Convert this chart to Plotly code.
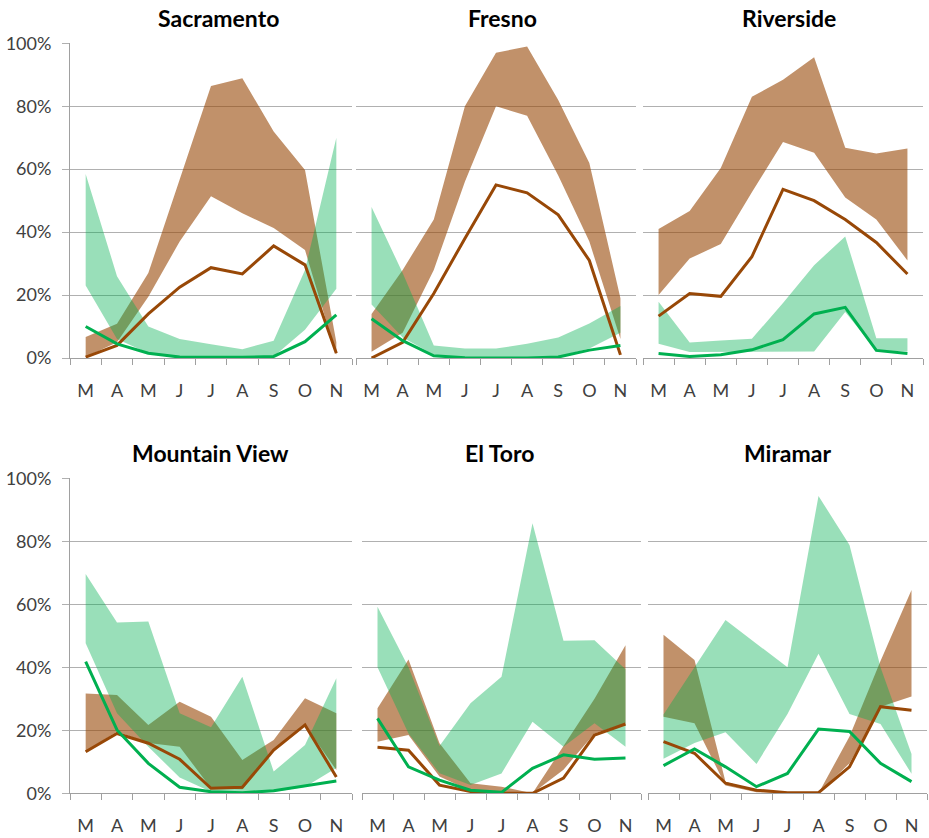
import plotly.graph_objects as go

# ---------------- data ----------------
months = ["M", "A", "M", "J", "J", "A", "S", "O", "N"]
cities = ["Sacramento", "Fresno", "Riverside", "Mountain View", "El Toro", "Miramar"]
y_tick_vals = [0, 20, 40, 60, 80, 100]
y_tick_text = ["0%", "20%", "40%", "60%", "80%", "100%"]

sac_brown_hi = [6.7, 10.9, 27, 57, 86.4, 88.9, 72, 59.7, 5]
sac_brown_lo = [0.3, 5, 19.5, 37, 51.4, 46, 41.3, 34.3, 1]
sac_brown_mid = [0.3, 4, 14, 22.5, 28.7, 26.7, 35.6, 29.6, 1.5]
sac_green_hi = [58.5, 26, 10, 6, 4.4, 2.8, 5.5, 28, 70]
sac_green_lo = [23, 6, 1.5, 0.5, 0.5, 0.5, 0.5, 9, 22]
sac_green_mid = [10, 4.5, 1.5, 0.3, 0.2, 0.2, 0.5, 5.2, 13.7]

fre_brown_hi = [14, 28, 44, 80, 97, 99, 82, 62, 19]
fre_brown_lo = [2, 8, 28, 56, 80, 77, 58, 37, 6]
fre_brown_mid = [0, 5, 20.5, 38, 55, 52.5, 45.5, 31, 1]
fre_green_hi = [48, 27, 4, 3, 3, 4.5, 6.5, 11, 16.5]
fre_green_lo = [17, 6.5, 1, 0.2, 0.2, 0.2, 0.5, 3, 8]
fre_green_mid = [12.5, 5.5, 0.7, 0.1, 0, 0, 0.3, 2.5, 4]

riv_brown_hi = [41, 46.7, 60.4, 83, 88.4, 95.6, 66.8, 65, 66.6]
riv_brown_lo = [20, 31.6, 36.2, 52.7, 68.6, 65.2, 51, 44, 31]
riv_brown_mid = [13.3, 20.5, 19.6, 32.2, 53.6, 50, 44, 36.7, 26.7]
riv_green_hi = [17.9, 4.9, 5.6, 6.1, 17.5, 29.5, 38.6, 6.3, 6.3]
riv_green_lo = [4.5, 1.9, 2.1, 2.1, 2.1, 2.1, 14.6, 2.4, 2.1]
riv_green_mid = [1.4, 0.5, 1, 2.6, 5.8, 14, 16.1, 2.4, 1.4]

mv_brown_hi = [31.7, 31.2, 21.7, 29.1, 24.3, 10.6, 16.9, 30.2, 25.4]
mv_brown_lo = [13.2, 19.6, 16, 14.8, 1.6, 1.3, 14, 21.7, 7.4]
mv_brown_mid = [13.2, 19, 15.9, 10.8, 1.6, 1.9, 13.7, 21.7, 5.2]
mv_green_hi = [69.6, 54.2, 54.5, 25.4, 21, 37, 6.9, 15.3, 36.5]
mv_green_lo = [47.6, 25.4, 14.8, 5, 0.5, 0, 0.5, 2, 8]
mv_green_mid = [41.8, 20.1, 9.5, 1.9, 0.5, 0.2, 0.8, 2.3, 3.9]

elt_brown_hi = [27, 42.5, 15.9, 3.2, 2.1, 0, 15, 30, 47]
elt_brown_lo = [16.4, 18.5, 5.3, 0.8, 0.3, 0, 7.5, 19, 22.2]
elt_brown_mid = [14.6, 13.7, 2.6, 0.6, 0, 0, 4.8, 18.5, 22]
elt_green_hi = [59.2, 40, 15, 28.6, 37, 85.7, 48.4, 48.6, 39.4]
elt_green_lo = [40, 19, 6.4, 2.6, 6.3, 22.7, 14.8, 22.2, 14.8]
elt_green_mid = [23.8, 8.4, 4.2, 1, 0.3, 7.9, 12.2, 10.8, 11.2]

mir_brown_hi = [50.3, 42.3, 3.7, 0.9, 0, 0, 18, 42, 64.5]
mir_brown_lo = [24.3, 22.2, 2.5, 0.3, 0, 0, 9.5, 27.5, 30.7]
mir_brown_mid = [16.4, 12.7, 3.2, 1, 0.2, 0.2, 8.4, 27.5, 26.4]
mir_green_hi = [25, 40, 55, 47.5, 40, 94.4, 78.8, 40, 12.5]
mir_green_lo = [11, 16, 19.4, 9.3, 25.2, 44.3, 25.2, 22, 6.2]
mir_green_mid = [8.8, 14.1, 8.4, 2.1, 6.3, 20.4, 19.6, 9.5, 3.7]

panels = [
    (sac_brown_hi, sac_brown_lo, sac_brown_mid, sac_green_hi, sac_green_lo, sac_green_mid),
    (fre_brown_hi, fre_brown_lo, fre_brown_mid, fre_green_hi, fre_green_lo, fre_green_mid),
    (riv_brown_hi, riv_brown_lo, riv_brown_mid, riv_green_hi, riv_green_lo, riv_green_mid),
    (mv_brown_hi, mv_brown_lo, mv_brown_mid, mv_green_hi, mv_green_lo, mv_green_mid),
    (elt_brown_hi, elt_brown_lo, elt_brown_mid, elt_green_hi, elt_green_lo, elt_green_mid),
    (mir_brown_hi, mir_brown_lo, mir_brown_mid, mir_green_hi, mir_green_lo, mir_green_mid),
]

# ---------------- style ----------------
W, H = 929, 838
FONT = "Lato"
BROWN_BAND = "rgba(152,72,7,0.6)"
BROWN_LINE = "#984807"
GREEN_BAND = "rgba(0,176,80,0.4)"
GREEN_LINE = "#00B050"
GRID = "#B0B0B0"
AXIS = "#A0A0A0"
TXT = "#404040"

x_px = [(70, 352), (356, 636), (643, 923), (70, 352), (362, 641), (648, 927)]
y_px = [(43.3, 358)] * 3 + [(478.3, 793.3)] * 3
title_px = [(218, 18.5), (502, 18.5), (789, 18.5), (210, 453), (499, 453), (787, 453)]

fig = go.Figure()
xs = list(range(len(months)))
bounds = [i - 0.5 for i in range(len(months) + 1)]

for k, (bh, bl, bm, gh, gl, gm) in enumerate(panels, start=1):
    xa = "x" if k == 1 else f"x{k}"
    ya = "y" if k == 1 else f"y{k}"
    poly_x = xs + xs[::-1]
    fig.add_trace(go.Scatter(x=poly_x, y=bh + bl[::-1], xaxis=xa, yaxis=ya, mode="lines",
                             fill="toself", fillcolor=BROWN_BAND, line=dict(width=0),
                             hoverinfo="skip", showlegend=False))
    fig.add_trace(go.Scatter(x=poly_x, y=gh + gl[::-1], xaxis=xa, yaxis=ya, mode="lines",
                             fill="toself", fillcolor=GREEN_BAND, line=dict(width=0),
                             hoverinfo="skip", showlegend=False))
    fig.add_trace(go.Scatter(x=xs, y=bm, xaxis=xa, yaxis=ya, mode="lines",
                             line=dict(color=BROWN_LINE, width=3), showlegend=False))
    fig.add_trace(go.Scatter(x=xs, y=gm, xaxis=xa, yaxis=ya, mode="lines",
                             line=dict(color=GREEN_LINE, width=3), showlegend=False))

    x0, x1 = x_px[k - 1]
    yt, yb = y_px[k - 1]
    left = k in (1, 4)
    xkey = "xaxis" if k == 1 else f"xaxis{k}"
    ykey = "yaxis" if k == 1 else f"yaxis{k}"
    fig.layout[xkey] = dict(
        domain=[x0 / W, x1 / W], anchor=ya, range=[-0.5, len(months) - 0.5],
        automargin=False,
        tickmode="array", tickvals=xs, ticktext=months, ticks="",
        showline=True, linecolor=AXIS, linewidth=1, showgrid=False, zeroline=False,
        tickfont=dict(family=FONT, size=18, color=TXT), ticklabelstandoff=16,
        minor=dict(tickmode="array", tickvals=bounds, ticks="outside", ticklen=6,
                   tickcolor=AXIS, tickwidth=1, showgrid=False),
        fixedrange=True,
    )
    fig.layout[ykey] = dict(
        domain=[1 - yb / H, 1 - yt / H], anchor=xa, range=[0, 100],
        automargin=False,
        tickmode="array", tickvals=y_tick_vals, ticktext=y_tick_text,
        showgrid=True, gridcolor=GRID, gridwidth=1, zeroline=False,
        showticklabels=left, ticks="outside" if left else "", ticklen=7, tickcolor=GRID,
        showline=left, linecolor=AXIS, linewidth=1,
        tickfont=dict(family=FONT, size=18, color=TXT), ticklabelstandoff=7,
        fixedrange=True,
    )
    tx, ty = title_px[k - 1]
    fig.add_annotation(x=tx / W, y=1 - ty / H, xref="paper", yref="paper",
                       text=f"<b>{cities[k - 1]}</b>", showarrow=False,
                       xanchor="center", yanchor="middle",
                       font=dict(family=FONT, size=23, color="#000000"))

fig.update_layout(width=W, height=H, margin=dict(l=0, r=0, t=0, b=0, autoexpand=False),
                  paper_bgcolor="white", plot_bgcolor="white",
                  font=dict(family=FONT), showlegend=False)

fig.write_html(
    "out.html",
    config={"displayModeBar": False},
    post_script="document.body.style.margin='0';document.body.style.padding='0';"
                "document.documentElement.style.overflow='hidden';",
)
